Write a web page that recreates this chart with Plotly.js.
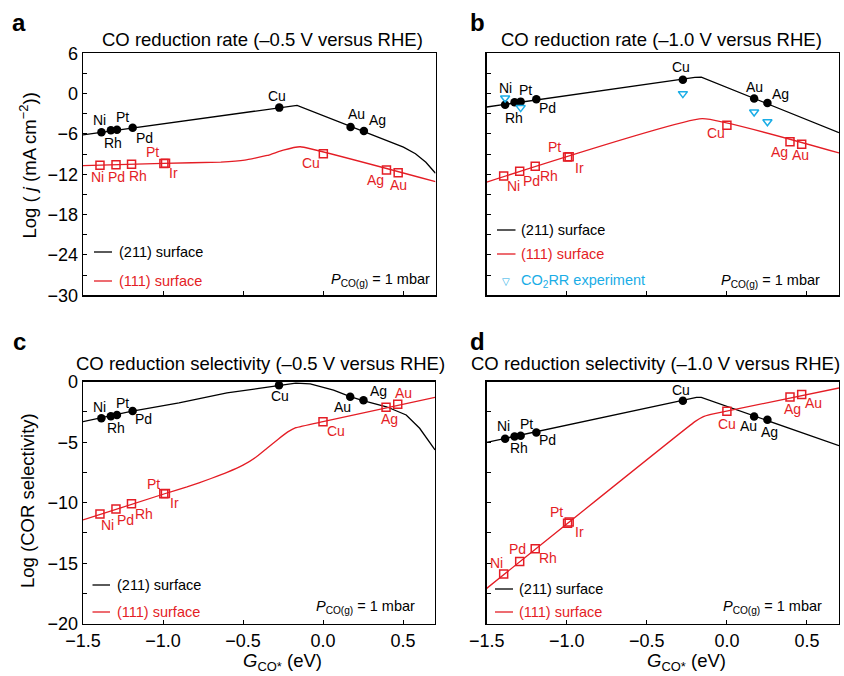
<!DOCTYPE html>
<html>
<head>
<meta charset="utf-8">
<script src="https://cdn.plot.ly/plotly-3.0.1.min.js"></script>
<style>html,body{margin:0;padding:0;background:#fff;}#chart{width:844px;height:676px;}</style>
</head>
<body>
<div id="chart"></div>
<script>
// ---------------- DATA ----------------
const metals211 = ['Ni', 'Rh', 'Pt', 'Pd', 'Cu', 'Au', 'Ag'];
const G211 = [-1.385, -1.326, -1.288, -1.19, -0.275, 0.17, 0.253];
const metals111 = ['Ni', 'Pd', 'Rh', 'Pt', 'Ir', 'Cu', 'Ag', 'Au'];
const G111 = [-1.394, -1.294, -1.197, -0.995, -0.985, 0.0, 0.394, 0.467];

// (a) log rate at -0.5 V
const rateA211 = [-5.76, -5.46, -5.36, -5.06, -2.08, -4.97, -5.56];
const rateA111 = [-10.67, -10.57, -10.52, -10.38, -10.37, -8.93, -11.37, -11.77];
const lineA211x = [-1.5, -0.164, 0.5, 0.575, 0.64, 0.7];
const lineA211y = [-6.15, -1.74, -7.95, -8.95, -10.2, -11.85];
const lineA111x = [-1.5, -1.0, -0.64, -0.49, -0.35, -0.25, -0.144, 0.7];
const lineA111y = [-10.72, -10.37, -10.18, -9.9, -9.2, -8.4, -7.9, -13.1];

// (b) log rate at -1.0 V
const rateB211 = [-1.64, -1.29, -1.19, -0.85, 2.08, -0.74, -1.39];
const rateB111 = [-12.26, -11.56, -10.82, -9.42, -9.38, -4.71, -7.14, -7.54];
const lineB211x = [-1.5, -0.2, -0.16, 0.7];
const lineB211y = [-1.99, 2.43, 2.45, -5.8];
const lineB111x = [-1.5, -0.154, 0.7];
const lineB111y = [-13.15, -3.72, -8.83];
const exptMetals = ['Ni', 'Pt', 'Cu', 'Au', 'Ag'];
const exptG = [-1.385, -1.288, -0.275, 0.17, 0.253];
const exptRate = [-0.65, -2.08, 0.0, -2.73, -4.17];

// (c) log selectivity at -0.5 V
const selC211 = [-3.02, -2.86, -2.75, -2.42, -0.30, -1.24, -1.54];
const selC111 = [-10.93, -10.52, -10.08, -9.27, -9.23, -3.3, -2.12, -1.87];
const lineC211x = [-1.5, -1.2, -0.9, -0.6, -0.4, -0.275, -0.17, -0.08, 0.066, 0.17, 0.25, 0.397, 0.52, 0.604, 0.666, 0.7];
const lineC211y = [-3.3, -2.45, -1.75, -0.93, -0.55, -0.3, -0.12, -0.18, -0.69, -1.24, -1.57, -2.07, -2.75, -3.85, -4.95, -5.64];
const lineC111x = [-1.5, -0.99, -0.85, -0.7, -0.6, -0.5, -0.42, -0.35, -0.28, -0.22, -0.17, 0.0, 0.7];
const lineC111y = [-11.43, -9.26, -8.7, -8.0, -7.5, -6.9, -6.25, -5.5, -4.75, -4.15, -3.8, -3.3, -1.29];

// (d) log selectivity at -1.0 V
const selD211 = [-4.71, -4.52, -4.46, -4.19, -1.57, -2.87, -3.14];
const selD111 = [-15.9, -14.85, -13.8, -11.7, -11.6, -2.45, -1.27, -1.05];
const lineD211x = [-1.5, -0.19, -0.16, 0.7];
const lineD211y = [-5.01, -1.3, -1.3, -5.29];
const lineD111x = [-1.5, -0.2, -0.15, -0.1, 0.7];
const lineD111y = [-17.08, -3.3, -2.9, -2.7, -0.52];

const xTicks = [-1.5, -1.0, -0.5, 0.0, 0.5];
const yTicksRate = [-30, -24, -18, -12, -6, 0, 6];
const yTicksSel = [-20, -15, -10, -5, 0];

// ---------------- STYLE ----------------
const FONT = 'Liberation Sans, Arial, Helvetica, sans-serif';
const RED = '#e41d25';
const CYAN = '#1aade6';
const W = 844, H = 676;
const px = (x) => x / W;
const py = (y) => 1 - y / H;

// label offsets [xshift, yshift(up +)]
const off = {
  a211: {Ni:[-2,12], Rh:[2,-13], Pt:[6,13], Pd:[12,-10], Cu:[-2,12], Au:[6,13], Ag:[14,11]},
  a111: {Ni:[-2,-12], Pd:[0,-12], Rh:[6,-12], Pt:[-11,11], Ir:[8,-10], Cu:[-12,-9], Ag:[-11,-10], Au:[0,-12]},
  b211: {Ni:[0,17], Rh:[-1,-16], Pt:[5,12], Pd:[11,-9], Cu:[-2,13], Au:[0,12], Ag:[13,9]},
  b111: {Ni:[10,-10], Pd:[12,-10], Rh:[14,-10], Pt:[-13,10], Ir:[10,-11], Cu:[-11,-8], Ag:[-11,-10], Au:[-1,-11]},
  c211: {Ni:[-2,11], Rh:[5,-12], Pt:[6,12], Pd:[11,-8], Cu:[1,-11], Au:[-8,-10], Ag:[15,9]},
  c111: {Ni:[8,-11], Pd:[10,-11], Rh:[13,-10], Pt:[-10,10], Ir:[9,-10], Cu:[13,-9], Ag:[3,-12], Au:[6,11]},
  d211: {Ni:[-2,13], Rh:[4,-12], Pt:[6,12], Pd:[11,-8], Cu:[-2,11], Au:[-6,-10], Ag:[2,-12]},
  d111: {Ni:[-7,11], Pd:[-2,12], Rh:[13,-9], Pt:[-11,11], Ir:[10,-10], Cu:[0,-13], Ag:[2,-12], Au:[12,-9]}
};

const traces = [];
const annotations = [];
const shapes = [];
const LBL = 14;

function addPanel(ax, l211x, l211y, l111x, l111y, v211, v111, o211, o111) {
  const xa = 'x' + (ax === 1 ? '' : ax), ya = 'y' + (ax === 1 ? '' : ax);
  traces.push({x: l211x, y: l211y, xaxis: xa, yaxis: ya, mode: 'lines', line: {color: '#000', width: 1.3}, hoverinfo: 'skip', showlegend: false});
  traces.push({x: l111x, y: l111y, xaxis: xa, yaxis: ya, mode: 'lines', line: {color: RED, width: 1.3, shape: 'spline', smoothing: 0.3}, hoverinfo: 'skip', showlegend: false});
  traces.push({x: G211, y: v211, xaxis: xa, yaxis: ya, mode: 'markers', marker: {symbol: 'circle', size: 8.5, color: '#000'}, showlegend: false});
  traces.push({x: G111, y: v111, xaxis: xa, yaxis: ya, mode: 'markers', marker: {symbol: 'square-open', size: 8, color: RED, line: {width: 1.5, color: RED}}, showlegend: false});
  metals211.forEach((m, i) => {
    annotations.push({x: G211[i], y: v211[i], xref: xa, yref: ya, text: m, showarrow: false,
      xshift: o211[m][0], yshift: o211[m][1], font: {family: FONT, size: LBL, color: '#000'}});
  });
  metals111.forEach((m, i) => {
    annotations.push({x: G111[i], y: v111[i], xref: xa, yref: ya, text: m, showarrow: false,
      xshift: o111[m][0], yshift: o111[m][1], font: {family: FONT, size: LBL, color: RED}});
  });
}

addPanel(1, lineA211x, lineA211y, lineA111x, lineA111y, rateA211, rateA111, off.a211, off.a111);
addPanel(2, lineB211x, lineB211y, lineB111x, lineB111y, rateB211, rateB111, off.b211, off.b111);
addPanel(3, lineC211x, lineC211y, lineC111x, lineC111y, selC211, selC111, off.c211, off.c111);
addPanel(4, lineD211x, lineD211y, lineD111x, lineD111y, selD211, selD111, off.d211, off.d111);

// CO2RR experiment
traces.push({x: exptG, y: exptRate, xaxis: 'x2', yaxis: 'y2', mode: 'markers',
  marker: {symbol: 'triangle-down-open', size: 8, color: CYAN, line: {width: 1.5, color: CYAN}}, showlegend: false});

function legendLine(x0, x1, y, color) {
  shapes.push({type: 'line', xref: 'paper', yref: 'paper', x0: px(x0), x1: px(x1), y0: py(y), y1: py(y), line: {color: color, width: 1.3}});
}
function txt(x, y, text, opts) {
  annotations.push(Object.assign({xref: 'paper', yref: 'paper', x: px(x), y: py(y), text: text, showarrow: false,
    xanchor: 'left', yanchor: 'middle', font: {family: FONT, size: 14.5, color: '#000'}}, opts || {}));
}
const LGR = {family: FONT, size: 14.5, color: RED};

// Panel a legend
legendLine(94, 112, 252, '#000'); txt(117, 252, '(211) surface');
legendLine(94, 112, 281, RED); txt(117, 281, '(111) surface', {font: LGR});
// Panel b legend
legendLine(497, 515.5, 230, '#000'); txt(519, 230, '(211) surface');
legendLine(497, 515.5, 254, RED); txt(519, 254, '(111) surface', {font: LGR});
txt(506, 281, '\u25BD', {xanchor: 'center', font: {family: 'DejaVu Sans', size: 10, color: CYAN}});
txt(519, 281, 'CO<sub>2</sub>RR experiment', {font: {family: FONT, size: 14.5, color: CYAN}});
// Panel c legend
legendLine(92.5, 110, 585, '#000'); txt(115, 585, '(211) surface');
legendLine(92.5, 110, 612, RED); txt(115, 612, '(111) surface', {font: LGR});
// Panel d legend
legendLine(495, 513, 589, '#000'); txt(517, 589, '(211) surface');
legendLine(495, 513, 612, RED); txt(517, 612, '(111) surface', {font: LGR});

// pressure notes
const pText = '<i>P</i><sub>CO(g)</sub> = 1 mbar';
txt(432, 280, pText, {xanchor: 'right'});
txt(822, 281, pText, {xanchor: 'right'});
txt(417, 607, pText, {xanchor: 'right'});
txt(824, 607, pText, {xanchor: 'right'});

// titles
const TF = {family: FONT, size: 18.5, color: '#000'};
const AF = {family: FONT, size: 18.5, color: '#000'};
txt(262, 40, 'CO reduction rate (\u20130.5 V versus RHE)', {xanchor: 'center', font: TF});
txt(661, 40, 'CO reduction rate (\u20131.0 V versus RHE)', {xanchor: 'center', font: TF});
txt(260, 363, 'CO reduction selectivity (\u20130.5 V versus RHE)', {xanchor: 'center', font: TF});
txt(655, 363, 'CO reduction selectivity (\u20131.0 V versus RHE)', {xanchor: 'center', font: TF});

// panel letters
const LF = {family: FONT, size: 24, color: '#000', weight: 'bold'};
txt(19, 22, '<b>a</b>', {xanchor: 'center', font: LF});
txt(477, 22, '<b>b</b>', {xanchor: 'center', font: LF});
txt(19, 341, '<b>c</b>', {xanchor: 'center', font: LF});
txt(477, 341, '<b>d</b>', {xanchor: 'center', font: LF});

// axis titles
txt(28.5, 166, 'Log ( <i>j</i> (mA cm<sup>\u22122</sup>))', {xanchor: 'center', textangle: -90, font: AF});
txt(28, 501, 'Log (COR selectivity)', {xanchor: 'center', textangle: -90, font: AF});
txt(282, 662, '<i>G</i><sub>CO*</sub> (eV)', {xanchor: 'center', font: AF});
txt(686, 662, '<i>G</i><sub>CO*</sub> (eV)', {xanchor: 'center', font: AF});

// ---------------- AXES ----------------
function xAxis(d0, d1, anchor, labels) {
  return {domain: [px(d0), px(d1)], anchor: anchor, range: [-1.5, 0.7], tickvals: xTicks, tickformat: '.1f',
    ticks: 'inside', ticklen: 4, tickwidth: 1, tickcolor: '#000', showline: true, linewidth: 1.3, linecolor: '#000',
    mirror: true, showgrid: false, zeroline: false, showticklabels: labels,
    tickfont: {family: FONT, size: 18, color: '#000'}};
}
function yAxis(t, b, anchor, range, tv, minorDt, labels) {
  return {domain: [py(b), py(t)], anchor: anchor, range: range, tickvals: tv,
    ticks: 'inside', ticklen: 4, tickwidth: 1, tickcolor: '#000',
    minor: {dtick: minorDt, tick0: 0, ticks: 'inside', ticklen: 4, tickwidth: 1, tickcolor: '#000'},
    showline: true, linewidth: 1.3, linecolor: '#000', mirror: true, showgrid: false, zeroline: false,
    showticklabels: labels, tickfont: {family: FONT, size: 18, color: '#000'}};
}

const layout = {
  width: W, height: H, margin: {l: 0, r: 0, t: 0, b: 0},
  paper_bgcolor: '#fff', plot_bgcolor: '#fff', showlegend: false,
  font: {family: FONT, color: '#000'},
  xaxis: xAxis(83, 435.5, 'y', false),
  yaxis: yAxis(53.3, 295.3, 'x', [-30, 6], yTicksRate, 3, true),
  xaxis2: xAxis(486.7, 839, 'y2', false),
  yaxis2: yAxis(53.3, 295.3, 'x2', [-30, 6], yTicksRate, 3, false),
  xaxis3: xAxis(83, 435, 'y3', true),
  yaxis3: yAxis(381.7, 623.7, 'x3', [-20, 0], yTicksSel, 2.5, true),
  xaxis4: xAxis(486.7, 839, 'y4', true),
  yaxis4: yAxis(381.7, 623.7, 'x4', [-20, 0], yTicksSel, 2.5, false),
  annotations: annotations,
  shapes: shapes
};

Plotly.newPlot('chart', traces, layout, {staticPlot: true, displayModeBar: false});
</script>
</body>
</html>
